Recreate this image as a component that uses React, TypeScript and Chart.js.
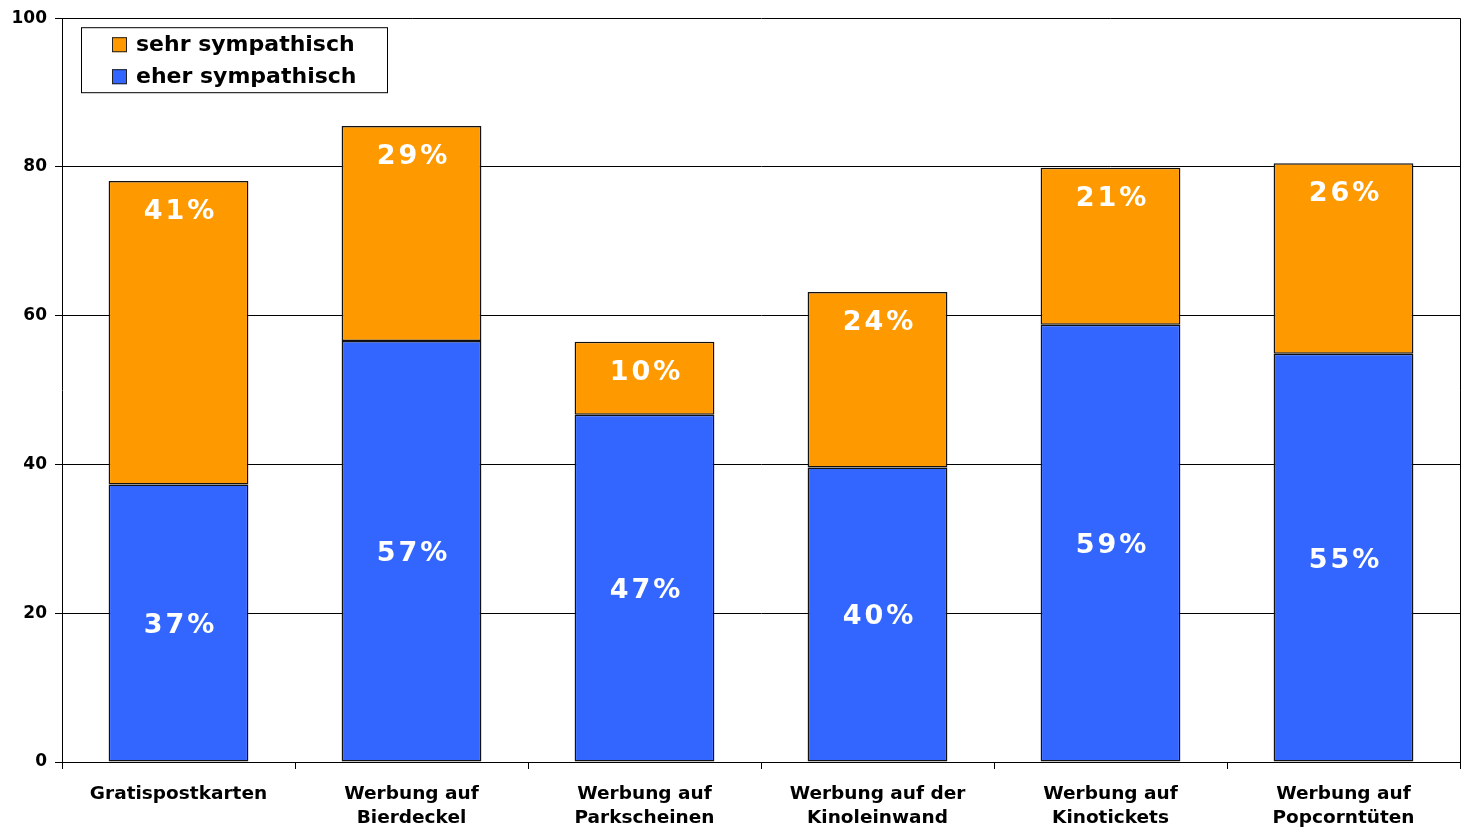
import React, { useEffect, useRef } from 'react';
import { Chart, registerables } from 'chart.js';

Chart.register(...registerables);

const categories: string[][] = [
  ['Gratispostkarten'],
  ['Werbung auf', 'Bierdeckel'],
  ['Werbung auf', 'Parkscheinen'],
  ['Werbung auf der', 'Kinoleinwand'],
  ['Werbung auf', 'Kinotickets'],
  ['Werbung auf', 'Popcorntüten'],
];
const eherSympathisch = [37.3, 56.6, 46.7, 39.6, 58.8, 54.9];
const sehrSympathisch = [40.8, 28.9, 9.8, 23.6, 21.1, 25.6];
const seriesNames = ['eher sympathisch', 'sehr sympathisch'];
const yMin = 0;
const yMax = 100;
const yStep = 20;

const FONT = '"DejaVu Sans", Verdana, sans-serif';
const BLUE = '#3366FF';
const ORANGE = '#FF9900';

const labelPlugin = {
  id: 'barLabels',
  afterDatasetsDraw(chart: any) {
    const ctx = chart.ctx;
    ctx.save();
    ctx.fillStyle = '#ffffff';
    ctx.font = `bold 27px ${FONT}`;
    (ctx as any).letterSpacing = '3px';
    ctx.textAlign = 'center';
    ctx.textBaseline = 'middle';
    chart.data.datasets.forEach((ds: any, di: number) => {
      const meta = chart.getDatasetMeta(di);
      meta.data.forEach((el: any, i: number) => {
        const v = ds.data[i];
        const txt = Math.round(v) + '%';
        let y: number;
        if (di === 1) {
          y = el.y + 31;
        } else {
          y = (el.y + el.base) / 2 + 3;
        }
        ctx.fillText(txt, el.x + 2, y);
      });
    });
    ctx.restore();
  },
};

const framePlugin = {
  id: 'frameLegend',
  afterDraw(chart: any) {
    const ctx = chart.ctx;
    const a = chart.chartArea;
    ctx.save();
    ctx.strokeStyle = '#000';
    ctx.lineWidth = 1;
    ctx.beginPath();
    ctx.moveTo(Math.round(a.right) + 0.5, a.top);
    ctx.lineTo(Math.round(a.right) + 0.5, a.bottom);
    ctx.stroke();

    const bx = a.left + 19;
    const by = a.top + 9;
    const bw = 306;
    const bh = 65;
    ctx.fillStyle = '#fff';
    ctx.fillRect(bx, by, bw, bh);
    ctx.strokeStyle = '#000';
    ctx.strokeRect(bx + 0.5, by + 0.5, bw, bh);
    const items = [
      { name: chart.data.datasets[1].label, color: chart.data.datasets[1].backgroundColor },
      { name: chart.data.datasets[0].label, color: chart.data.datasets[0].backgroundColor },
    ];
    ctx.font = `bold 22px ${FONT}`;
    ctx.textBaseline = 'middle';
    ctx.textAlign = 'left';
    items.forEach((it, k) => {
      const cy = by + 17 + k * 32;
      ctx.fillStyle = it.color;
      ctx.fillRect(bx + 31, cy - 7, 15, 15);
      ctx.strokeStyle = '#222';
      ctx.strokeRect(bx + 31.5, cy - 6.5, 14, 14);
      ctx.fillStyle = '#000';
      ctx.fillText(it.name, bx + 55, cy + 1);
    });
    ctx.restore();
  },
};

export default function App() {
  const ref = useRef<HTMLCanvasElement | null>(null);
  useEffect(() => {
    document.body.style.margin = '0';
    if (!ref.current) return;
    const chart = new Chart(ref.current, {
      type: 'bar',
      data: {
        labels: categories as any,
        datasets: [
          {
            label: seriesNames[0],
            data: eherSympathisch,
            backgroundColor: BLUE,
            borderColor: '#111',
            borderWidth: 1.5,
            borderSkipped: false,
            barPercentage: 0.6,
            categoryPercentage: 1,
          },
          {
            label: seriesNames[1],
            data: sehrSympathisch,
            backgroundColor: ORANGE,
            borderColor: '#111',
            borderWidth: 1.5,
            borderSkipped: false,
            barPercentage: 0.6,
            categoryPercentage: 1,
          },
        ],
      },
      options: {
        animation: false,
        responsive: false,
        layout: { padding: { top: 17, right: 6, left: 0, bottom: 0 } },
        plugins: { legend: { display: false }, tooltip: { enabled: false } },
        scales: {
          x: {
            stacked: true,
            offset: true,
            grid: {
              display: true,
              offset: true,
              drawOnChartArea: false,
              drawTicks: true,
              tickLength: 7,
              color: '#000',
            },
            border: { display: true, color: '#000', width: 1 },
            ticks: {
              color: '#000',
              font: { family: FONT, size: 18.5, weight: 'bold', lineHeight: 1.3 },
              padding: 13,
              maxRotation: 0,
              autoSkip: false,
            },
            afterFit(scale: any) {
              scale.height = 65;
            },
          },
          y: {
            stacked: true,
            min: yMin,
            max: yMax,
            grid: {
              color: '#000',
              tickLength: 7,
              drawTicks: true,
            },
            border: { display: true, color: '#000', width: 1 },
            ticks: {
              stepSize: yStep,
              color: '#000',
              font: { family: FONT, size: 17, weight: 'bold' },
              padding: 8,
            },
            afterFit(scale: any) {
              scale.width = 62;
            },
          },
        },
      },
      plugins: [labelPlugin, framePlugin],
    });
    return () => chart.destroy();
  }, []);
  return (
    <div style={{ width: 1466, height: 827 }}>
      <canvas ref={ref} width={1466} height={827} style={{ width: 1466, height: 827, display: 'block' }} />
    </div>
  );
}
